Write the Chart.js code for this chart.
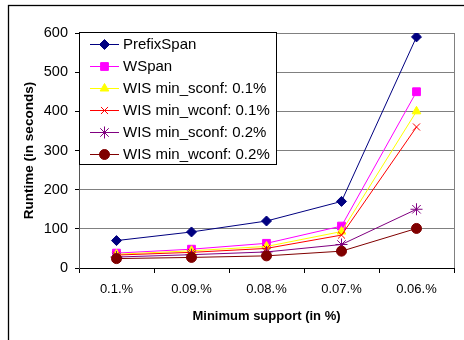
<!DOCTYPE html>
<html>
<head>
<meta charset="utf-8">
<script src="https://cdn.jsdelivr.net/npm/chart.js@4.4.0/dist/chart.umd.min.js"></script>
<style>
  html, body { margin: 0; padding: 0; background: #fff; }
  #wrap { width: 464px; height: 340px; }
</style>
</head>
<body>
<div id="wrap"><canvas id="chart" width="464" height="340"></canvas></div>
<script>
// categories (minimum support) and runtimes in seconds
const categories = ['0.1.%', '0.09.%', '0.08.%', '0.07.%', '0.06.%'];
const seriesNames = ['PrefixSpan', 'WSpan', 'WIS min_sconf: 0.1%', 'WIS min_wconf: 0.1%', 'WIS min_sconf: 0.2%', 'WIS min_wconf: 0.2%'];
const prefixSpan = [70, 92, 120, 170, 590];
const wSpan = [38, 48, 63, 107, 450];
const wisSconf01 = [35, 44, 55, 93, 400];
const wisWconf01 = [33, 40, 50, 84, 360];
const wisSconf02 = [28, 34, 41, 60, 150];
const wisWconf02 = [24, 27, 31, 43, 101];
const yTicks = [0, 100, 200, 300, 400, 500, 600];

const colors = ['#000080', '#FF00FF', '#FFFF00', '#FF0000', '#800080', '#800000'];
const styles = ['rectRot', 'rect', 'triangle', 'crossRot', 'star', 'circle'];
const radii = [5, 5.5, 5, 5, 6, 5];
const values = [prefixSpan, wSpan, wisSconf01, wisWconf01, wisSconf02, wisWconf02];

const datasets = values.map((v, i) => ({
  label: seriesNames[i],
  data: v,
  borderColor: colors[i],
  backgroundColor: colors[i],
  borderWidth: 1,
  pointStyle: styles[i],
  pointRadius: radii[i],
  pointBorderWidth: 1,
  tension: 0,
  order: 6 - i
}));

// outer frame, plot border
const framePlugin = {
  id: 'frame',
  beforeDraw(chart) {
    const ctx = chart.ctx;
    ctx.save();
    ctx.fillStyle = '#fff';
    ctx.fillRect(0, 0, chart.width, chart.height);
    ctx.strokeStyle = '#000';
    ctx.lineWidth = 1.3;
    ctx.strokeRect(8.5, 5.5, 600, 600);
    ctx.restore();
  },
  afterDraw(chart) {
    const a = chart.chartArea, ctx = chart.ctx;
    ctx.save();
    ctx.strokeStyle = '#808080';
    ctx.lineWidth = 1;
    ctx.beginPath();
    ctx.moveTo(Math.round(a.right) + 0.5, a.top);
    ctx.lineTo(Math.round(a.right) + 0.5, a.bottom);
    ctx.stroke();
    ctx.restore();
  }
};

// legend box drawn inside the plot, Excel style (line + marker)
const boxLegend = {
  id: 'boxLegend',
  afterDatasetsDraw(chart) {
    const ctx = chart.ctx;
    const x0 = 79.5, y0 = 32.5, w = 197, h = 132;
    ctx.save();
    ctx.fillStyle = '#fff';
    ctx.fillRect(x0, y0, w, h);
    ctx.strokeStyle = '#000';
    ctx.lineWidth = 1;
    ctx.strokeRect(x0, y0, w, h);
    ctx.font = '15px "Liberation Sans", Arial, sans-serif';
    ctx.textBaseline = 'middle';
    chart.data.datasets.forEach((ds, i) => {
      const y = 44 + i * 22;
      ctx.strokeStyle = ds.borderColor;
      ctx.fillStyle = ds.backgroundColor;
      ctx.lineWidth = 1;
      ctx.beginPath();
      ctx.moveTo(90, y + 0.5);
      ctx.lineTo(119, y + 0.5);
      ctx.stroke();
      Chart.helpers.drawPoint(ctx, {pointStyle: ds.pointStyle, radius: ds.pointRadius, rotation: 0, borderWidth: 1}, 104.5, y + 0.5);
      ctx.fillStyle = '#000';
      ctx.fillText(ds.label, 123, y + 1);
    });
    ctx.restore();
  }
};

new Chart(document.getElementById('chart'), {
  type: 'line',
  data: { labels: categories, datasets: datasets },
  options: {
    responsive: false,
    animation: false,
    devicePixelRatio: 1,
    layout: { padding: { left: 0, right: 10, top: 33, bottom: 0 } },
    plugins: { legend: { display: false }, tooltip: { enabled: false } },
    scales: {
      x: {
        offset: true,
        afterFit(s) { s.height = 72; },
        grid: { offset: true, drawOnChartArea: false, drawTicks: true, tickLength: 5, tickColor: '#000' },
        border: { color: '#000', width: 1 },
        ticks: { color: '#000', padding: 9, font: { family: '"Liberation Sans", Arial', size: 13 } },
        title: { display: true, text: 'Minimum support (in %)', color: '#000', padding: { top: 4, bottom: 16 },
                 font: { family: '"Liberation Sans", Arial', size: 13, weight: 'bold' } }
      },
      y: {
        min: 0, max: 600,
        afterFit(s) { s.width = 79; },
        afterBuildTicks(s) { s.ticks = yTicks.map(v => ({ value: v })); },
        grid: { color: '#808080', tickLength: 4, tickColor: '#000' },
        border: { color: '#555', width: 1 },
        ticks: { color: '#000', padding: 7, font: { family: '"Liberation Sans", Arial', size: 14.5 } },
        title: { display: true, text: 'Runtime (in seconds)', color: '#000', padding: { top: 21, bottom: 4 },
                 font: { family: '"Liberation Sans", Arial', size: 13.5, weight: 'bold' } }
      }
    }
  },
  plugins: [framePlugin, boxLegend]
});
</script>
</body>
</html>
